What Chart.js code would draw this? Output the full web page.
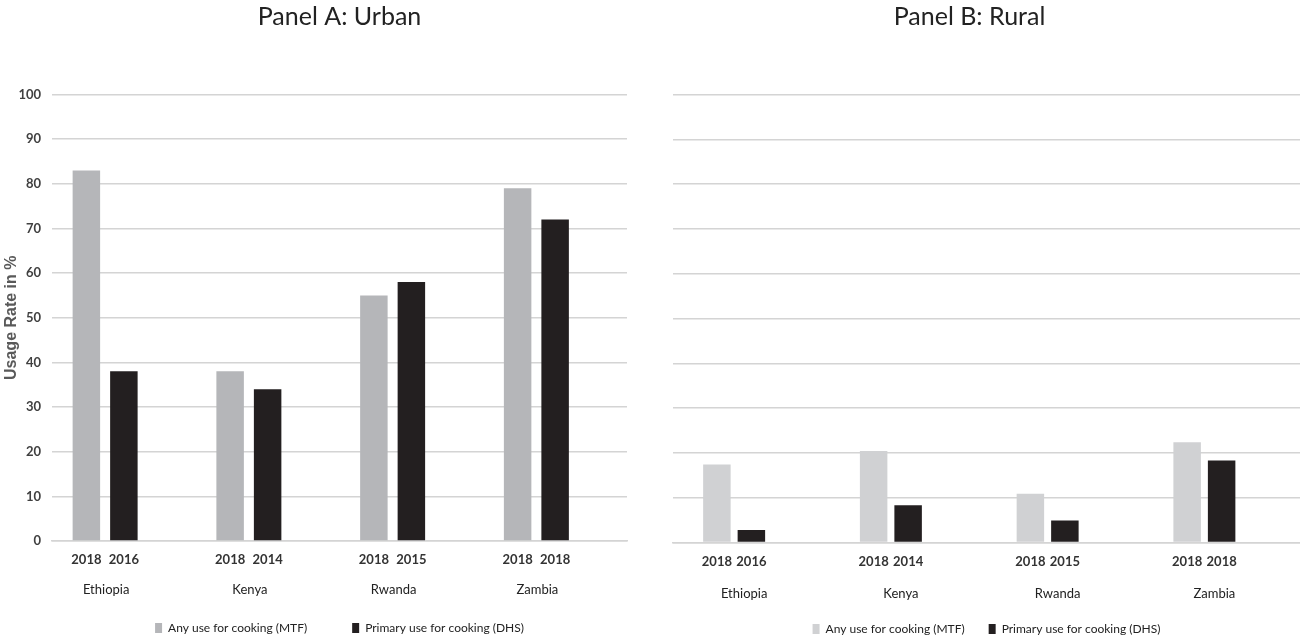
<!DOCTYPE html>
<html>
<head>
<meta charset="utf-8">
<script src="https://cdn.jsdelivr.net/npm/chart.js@4.4.1/dist/chart.umd.min.js"></script>
<style>
  html, body { margin: 0; padding: 0; background: #fff; overflow: hidden; }
  #wrap { position: relative; width: 1300px; height: 640px; }
  .panel { position: absolute; top: 0; height: 640px; }
  #pa { left: 0; width: 679px; }
  #pb { left: 639px; width: 661px; }
</style>
</head>
<body>
<div id="wrap">
  <div class="panel" id="pa"><canvas id="urban"></canvas></div>
  <div class="panel" id="pb"><canvas id="rural"></canvas></div>
</div>
<script>
// data
const countries = ['Ethiopia', 'Kenya', 'Rwanda', 'Zambia'];
const mtfYears = ['2018', '2018', '2018', '2018'];
const dhsYears = ['2016', '2014', '2015', '2018'];
const urbanMTF = [83, 38, 55, 79];
const urbanDHS = [38, 34, 58, 72];
const ruralMTF = [17.4, 20.4, 10.9, 22.4];
const ruralDHS = [2.8, 8.3, 4.9, 18.3];
const yTicks = [0, 10, 20, 30, 40, 50, 60, 70, 80, 90, 100];

const seriesNames = ['Any use for cooking (MTF)', 'Primary use for cooking (DHS)'];
const FONT = "Lato, 'Liberation Sans', sans-serif";
Chart.defaults.font.family = FONT;
Chart.defaults.color = '#333';

// two-row category labels: survey year under each bar, country under each pair
const groupLabels = {
  id: 'groupLabels',
  afterDatasetsDraw(chart, args, opts) {
    const ctx = chart.ctx;
    const bottom = chart.chartArea.bottom;
    const a = chart.getDatasetMeta(0).data;
    const b = chart.getDatasetMeta(1).data;
    ctx.save();
    ctx.textAlign = 'center';
    ctx.textBaseline = 'middle';
    ctx.fillStyle = '#333';
    ctx.font = 'bold 13px ' + FONT;
    opts.years.forEach((yrs, i) => {
      chart.getDatasetMeta(i).data.forEach((bar, j) => {
        ctx.fillText(yrs[j], bar.x, bottom + opts.yearOffset);
      });
    });
    ctx.fillStyle = '#222';
    ctx.font = '13px ' + FONT;
    chart.data.labels.forEach((name, j) => {
      const x = (a[j].x + b[j].x) / 2 + opts.nameShift;
      ctx.fillText(name, x, bottom + opts.nameOffset);
    });
    ctx.restore();
  }
};

function panel(id, o) {
  return new Chart(document.getElementById(id), {
    type: 'bar',
    data: {
      labels: countries,
      datasets: [
        { label: seriesNames[0], data: o.mtf, backgroundColor: o.gray },
        { label: seriesNames[1], data: o.dhs, backgroundColor: '#231f20' },
        { label: '', data: countries.map(() => null), backgroundColor: 'transparent' }
      ]
    },
    options: {
      responsive: true,
      maintainAspectRatio: false,
      animation: false,
      layout: { padding: { left: 0, right: 0, top: 0, bottom: o.padBottom } },
      datasets: { bar: { categoryPercentage: o.catPct, barPercentage: o.barPct } },
      scales: {
        x: {
          grid: { display: false, drawTicks: false },
          border: { display: true, color: '#d4d4d4', width: 1.5 },
          ticks: { display: false },
          afterFit(s) { s.height = o.xHeight; }
        },
        y: {
          min: 0, max: 100,
          afterBuildTicks(s) { s.ticks = yTicks.map(v => ({ value: v })); },
          grid: { color: '#d4d4d4', lineWidth: 1.5, drawTicks: false },
          border: { display: false },
          ticks: { display: o.showTicks, font: { size: 13, weight: 'bold' }, color: '#404040', padding: 11 },
          title: {
            display: o.showTicks, text: 'Usage Rate in %', color: '#595959',
            padding: { top: 2, bottom: 2 },
            font: { family: "'Liberation Sans', Arial, sans-serif", size: 16, weight: 'bold' }
          },
          afterFit(s) { s.width = o.yWidth; }
        },
        yR: {
          position: 'right',
          grid: { display: false },
          border: { display: false },
          ticks: { display: false },
          afterFit(s) { s.width = o.rightWidth; }
        }
      },
      plugins: {
        title: {
          display: true, text: o.title, color: '#222',
          font: { size: 25, weight: 'normal', lineHeight: 1 },
          padding: { top: 4.5, bottom: 65 }
        },
        legend: {
          position: 'bottom',
          fullSize: false,
          labels: {
            boxWidth: 7, boxHeight: 10, padding: o.legendPad, color: '#222',
            font: { size: 12 },
            filter: item => item.datasetIndex < 2
          }
        },
        tooltip: { enabled: false },
        groupLabels: {
          years: [mtfYears, dhsYears], yearOffset: o.yearOffset,
          nameOffset: o.nameOffset, nameShift: o.nameShift
        }
      }
    },
    plugins: [groupLabels]
  });
}

panel('urban', {
  title: 'Panel A: Urban', mtf: urbanMTF, dhs: urbanDHS, gray: '#b5b6b9',
  catPct: 0.7826, barPct: 0.733, yWidth: 52, rightWidth: 52, showTicks: true,
  padBottom: -4, legendPad: 45, xHeight: 36, yearOffset: 19, nameOffset: 49, nameShift: 1
});
panel('rural', {
  title: 'Panel B: Rural', mtf: ruralMTF, dhs: ruralDHS, gray: '#d0d1d3',
  catPct: 0.66, barPct: 0.797, yWidth: 34, rightWidth: 0, showTicks: false,
  padBottom: -5, legendPad: 24, xHeight: 56.5, yearOffset: 19.5, nameOffset: 51, nameShift: 10
});
</script>
</body>
</html>
